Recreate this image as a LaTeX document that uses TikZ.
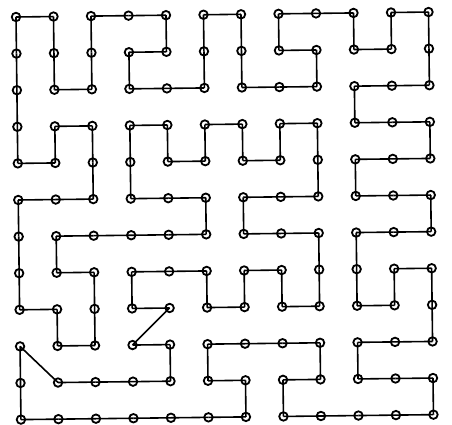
\documentclass[tikz,border=0pt]{standalone}
\begin{document}
\begin{tikzpicture}[x=1pt,y=1pt,
  dot/.style={circle,draw,inner sep=0pt,minimum size=8.5pt,line width=1.8pt},
  conn/.style={line width=1.6pt}]
\useasboundingbox (0,0) rectangle (452,425);
\foreach \c in {0,...,11}{
  \foreach \r in {0,...,11}{
    \node[dot] (n\c-\r) at ({16+37.5*\c+0.45*\r},{425-(17+36.6*\r-0.45*\c)}) {};
  }
}
\foreach \a/\b [remember=\a as \pa (initially 1), remember=\b as \pb (initially 0)] in
 {0/0,0/1,0/2,0/3,0/4,1/4,1/3,2/3,2/4,2/5,1/5,0/5,0/6,0/7,0/8,1/8,1/9,2/9,2/8,2/7,1/7,1/6,2/6,3/6,4/6,5/6,5/5,4/5,3/5,3/4,3/3,4/3,4/4,5/4,5/3,6/3,6/4,7/4,7/3,8/3,8/4,8/5,7/5,6/5,6/6,7/6,8/6,8/7,8/8,7/8,7/7,6/7,6/8,5/8,5/7,4/7,3/7,3/8,4/8,3/9,4/9,4/10,3/10,2/10,1/10,0/9,0/10,0/11,1/11,2/11,3/11,4/11,5/11,6/11,6/10,5/10,5/9,6/9,7/9,8/9,8/10,7/10,7/11,8/11,9/11,10/11,11/11,11/10,10/10,9/10,9/9,10/9,11/9,11/8,11/7,10/7,10/8,9/8,9/7,9/6,10/6,11/6,11/5,10/5,9/5,9/4,10/4,11/4,11/3,10/3,9/3,9/2,10/2,11/2,11/1,11/0,10/0,10/1,9/1,9/0,8/0,7/0,7/1,8/1,8/2,7/2,6/2,6/1,6/0,5/0,5/1,5/2,4/2,3/2,3/1,4/1,4/0,3/0,2/0,2/1,2/2,1/2,1/1,1/0}
 { \draw[conn] (n\pa-\pb.center) -- (n\a-\b.center); }
\end{tikzpicture}
\end{document}
